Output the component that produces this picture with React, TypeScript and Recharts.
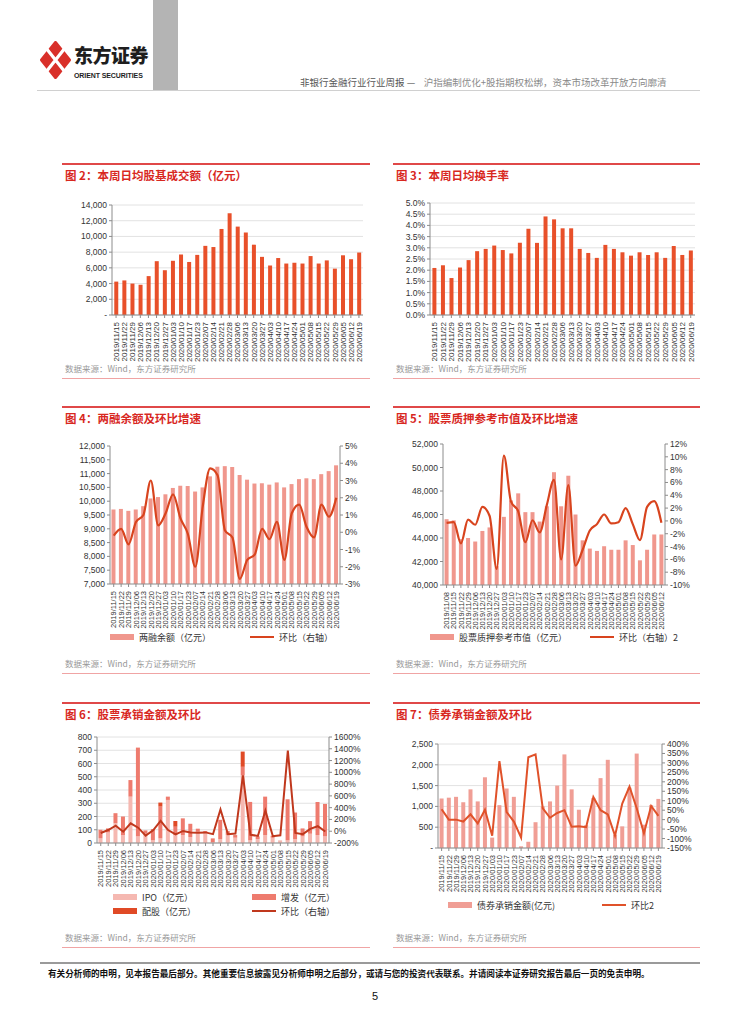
import React from 'react';
import {
  BarChart,
  Bar,
  ComposedChart,
  Line,
  XAxis,
  YAxis,
  CartesianGrid,
} from 'recharts';

// 周度日期（图2/3/4/6/7）
const weeks = [
  '2019/11/15', '2019/11/22', '2019/11/29', '2019/12/06', '2019/12/13', '2019/12/20', '2019/12/27',
  '2020/01/03', '2020/01/10', '2020/01/17', '2020/01/23', '2020/02/07', '2020/02/14', '2020/02/21',
  '2020/02/28', '2020/03/06', '2020/03/13', '2020/03/20', '2020/03/27', '2020/04/03', '2020/04/10',
  '2020/04/17', '2020/04/24', '2020/05/01', '2020/05/08', '2020/05/15', '2020/05/22', '2020/05/29',
  '2020/06/05', '2020/06/12', '2020/06/19',
];
// 图5 日期
const pledgeWeeks = ['2019/11/08', ...weeks.slice(0, 30)];

// 图2 日均股基成交额（亿元）
const turnover = [4250, 4400, 4000, 3850, 4950, 6850, 5700, 6900, 7700, 6750, 7650, 8800, 8650, 10950, 12950, 11250, 10500, 8950, 7400, 6300, 7250, 6550, 6650, 6550, 7500, 6550, 6950, 5900, 7600, 7100, 7950];
// 图3 日均换手率（%）
const turnoverRate = [2.1, 2.22, 1.65, 2.12, 2.45, 2.85, 2.95, 3.1, 2.9, 2.75, 3.22, 3.85, 3.22, 4.4, 4.27, 3.87, 3.87, 2.95, 2.77, 2.55, 3.13, 2.95, 2.8, 2.65, 2.8, 2.68, 2.8, 2.55, 3.08, 2.68, 2.88];
// 图4 两融余额（亿元）及环比（%）
const marginBal = [9700, 9720, 9650, 9700, 9820, 10100, 10150, 10250, 10480, 10560, 10550, 10350, 10500, 10900, 11250, 11270, 11240, 10950, 10780, 10640, 10650, 10600, 10680, 10500, 10620, 10800, 10830, 10800, 10980, 11090, 11300];
const marginChg = [-0.2, 0.2, -0.7, 0.6, 1.0, 3.0, 0.4, 1.1, 2.2, 0.8, -0.1, -2.0, 1.5, 3.7, 3.3, 0.1, -0.3, -2.7, -1.6, -1.3, 0.2, -0.4, 0.6, -1.6, 1.1, 1.6, 0.3, -0.3, 1.6, 0.9, 2.0];
// 图5 股票质押参考市值（亿元）及环比（%）
const pledgeVal = [45600, 45500, 43900, 44000, 43700, 44600, 44900, 41600, 45800, 47200, 47800, 46200, 46200, 45400, 46700, 49600, 46700, 49300, 46000, 43800, 43100, 42900, 43300, 43000, 43000, 43800, 43400, 42100, 43000, 44300, 44300];
const pledgeChg = [-0.3, -0.2, -3.5, 0.2, -0.6, 2.2, 0.8, -7.5, 10.2, 3.0, 1.5, -3.3, 0.1, -1.8, 2.5, 6.4, -6.0, 5.6, -7.0, -4.5, -1.5, -0.5, 1.0, -0.4, -0.2, 2.0, -0.5, -3.0, 2.2, 3.1, -0.3];
// 图6 股票承销（亿元）及环比（%）
const ipo = [35, 80, 150, 60, 350, 50, 70, 20, 35, 325, 60, 60, 45, 85, 80, 5, 30, 60, 40, 510, 20, 30, 60, 40, 20, 20, 30, 50, 70, 60, 50];
const seo = [65, 30, 75, 140, 125, 670, 25, 85, 240, 25, 63, 126, 100, 23, 10, 30, 145, 30, 20, 65, 290, 20, 290, 15, 0, 310, 200, 60, 95, 250, 245];
const rights = [0, 0, 0, 0, 0, 0, 0, 0, 30, 0, 43, 0, 0, 0, 0, 0, 0, 0, 0, 115, 0, 0, 0, 0, 0, 0, 0, 0, 0, 0, 0];
const equityChg = [-30, 20, 95, -8, 135, 60, -75, 15, 175, 20, -53, 5, -20, -25, -20, -50, 370, -50, -40, 950, -60, -80, 350, -85, -70, 1370, -30, -50, 40, 85, -5];
// 图7 债券承销金额（亿元）及环比（%）
const bondAmt = [1190, 1210, 1230, 1100, 1410, 1120, 1700, 250, 1030, 1430, 1230, 40, 150, 620, 1000, 1120, 1500, 2250, 1410, 920, 550, 1200, 1680, 2120, 320, 520, 1450, 2270, 560, 1030, 1180];
const bondChg = [55, 0, 0, -10, 28, -20, 52, -85, 310, 40, -10, -95, 330, 345, 60, 10, 35, 50, -38, -35, -40, 120, 50, 28, -85, 85, 175, 60, -72, 72, 20];

const FNUM = '"Liberation Sans", Arial, sans-serif';
const FCN = '"Noto Sans CJK SC", "Noto Sans", sans-serif';
const AX = '#8c8c8c';
const GRID = '#e2e2e2';
const TXT = '#333';
const TITLE_RED = '#d8281f';

const fmtNum = (v: number) => (v === 0 ? '-' : v.toLocaleString('en-US'));
const yTick = { fontSize: 8.5, fill: TXT, fontFamily: FNUM };

const RotTick = (props: any) => {
  const { x, y, payload, fs = 8 } = props;
  return (
    <text
      transform={`translate(${x + fs * 0.36},${y + 2}) rotate(-90)`}
      textAnchor="end"
      fontSize={fs}
      fill={TXT}
      fontFamily={FNUM}
    >
      {payload.value}
    </text>
  );
};

const abs = (left: number, top: number, extra: React.CSSProperties = {}): React.CSSProperties => ({
  position: 'absolute',
  left,
  top,
  ...extra,
});

function Frame({ x, w, top, title, source, bottom }: { x: number; w: number; top: number; title: string; source: number; bottom: number }) {
  return (
    <>
      <div style={abs(x, top, { width: w, height: 1.5, background: '#e04848' })} />
      <div style={abs(x + 3, top + 5, { fontSize: 11.5, fontWeight: 700, color: TITLE_RED, whiteSpace: 'nowrap', lineHeight: '14px' })}>
        {title}
      </div>
      <div style={abs(x + 3, source - 6, { fontSize: 8.5, color: '#999', whiteSpace: 'nowrap', lineHeight: '12px' })}>
        数据来源：Wind，东方证券研究所
      </div>
      <div style={abs(x, bottom, { width: w, height: 1, background: '#f0a4a4' })} />
    </>
  );
}

function LegendItem({ x, y, color, kind, label }: { x: number; y: number; color: string; kind: 'rect' | 'line'; label: string }) {
  return (
    <div style={abs(x, y - 7, { display: 'flex', alignItems: 'center', height: 14, whiteSpace: 'nowrap', background: '#fff', paddingRight: 2 })}>
      <div style={{ width: 24, height: kind === 'rect' ? 6 : 2.5, background: color, marginRight: 5 }} />
      <span style={{ fontSize: 9, color: TXT }}>{label}</span>
    </div>
  );
}

const c2 = weeks.map((d, i) => ({ d, v: turnover[i] }));
const c3 = weeks.map((d, i) => ({ d, v: turnoverRate[i] }));
const c4 = weeks.map((d, i) => ({ d, bal: marginBal[i], chg: marginChg[i] }));
const c5 = pledgeWeeks.map((d, i) => ({ d, val: pledgeVal[i], chg: pledgeChg[i] }));
const c6 = weeks.map((d, i) => ({ d, ipo: ipo[i], seo: seo[i], rights: rights[i], chg: equityChg[i] }));
const c7 = weeks.map((d, i) => ({ d, amt: bondAmt[i], chg: bondChg[i] }));

export default function App() {
  return (
    <div style={{ position: 'absolute', left: 0, top: 0, width: 754, height: 1024, background: '#fff', fontFamily: FCN, overflow: 'hidden' }}>
      {/* header */}
      <div style={abs(153, 0, { width: 25, height: 90, background: '#b4b4b4' })} />
      <svg style={abs(40, 41)} width={31} height={38} viewBox="0 0 31 38">
        <path d="M15.5 1.5 L29.5 19 L15.5 36.5 L1.5 19 Z" fill="#d9302a" stroke="#d9302a" strokeWidth={3} strokeLinejoin="round" />
        <path d="M6 7 L25 31 M25 7 L6 31" stroke="#fff" strokeWidth={3.2} />
      </svg>
      <div style={abs(74, 43, { fontSize: 19, fontWeight: 900, color: '#1e1e1e', lineHeight: '24px', letterSpacing: -0.5 })}>东方证券</div>
      <div style={abs(74, 71, { fontSize: 7, fontWeight: 700, color: '#1e1e1e', fontFamily: FNUM, lineHeight: '10px', letterSpacing: -0.1 })}>ORIENT SECURITIES</div>
      <div style={abs(300, 76, { fontSize: 9.5, color: '#555', whiteSpace: 'nowrap', lineHeight: '12px' })}>
        非银行金融行业行业周报 —&nbsp;&nbsp;&nbsp;&nbsp;<span style={{ color: '#8a8a8a' }}>沪指编制优化+股指期权松绑，资本市场改革开放方向廓清</span>
      </div>
      <div style={abs(37, 90, { width: 663, height: 1, background: '#d0d0d0' })} />

      {/* frames */}
      <Frame x={62} w={308} top={163} title="图 2：本周日均股基成交额（亿元）" source={368} bottom={378} />
      <Frame x={393} w={307} top={163} title="图 3：本周日均换手率" source={368} bottom={378} />
      <Frame x={62} w={308} top={406} title="图 4：两融余额及环比增速" source={663} bottom={673} />
      <Frame x={393} w={307} top={406} title="图 5：股票质押参考市值及环比增速" source={663} bottom={673} />
      <Frame x={62} w={308} top={702} title="图 6：股票承销金额及环比" source={937} bottom={947} />
      <Frame x={393} w={307} top={702} title="图 7：债券承销金额及环比" source={937} bottom={947} />

      {/* 图2 */}
      <div style={abs(62, 195)}>
        <BarChart width={308} height={170} data={c2} margin={{ top: 10, right: 7, bottom: 0, left: 0 }} barCategoryGap="28%">
          <CartesianGrid vertical={false} stroke={GRID} />
          <XAxis dataKey="d" interval={0} height={50} tick={(p: any) => <RotTick {...p} />} stroke={AX} tickSize={3} />
          <YAxis width={50} interval={0} domain={[0, 14000]} ticks={[0, 2000, 4000, 6000, 8000, 10000, 12000, 14000]} tickFormatter={fmtNum} tick={yTick} stroke={AX} tickSize={3} />
          <Bar dataKey="v" fill="#e8502a" isAnimationActive={false} />
        </BarChart>
      </div>

      {/* 图3 */}
      <div style={abs(393, 193)}>
        <BarChart width={307} height={172} data={c3} margin={{ top: 10, right: 5, bottom: 0, left: 0 }} barCategoryGap="28%">
          <CartesianGrid vertical={false} stroke={GRID} />
          <XAxis dataKey="d" interval={0} height={50} tick={(p: any) => <RotTick {...p} />} stroke={AX} tickSize={3} />
          <YAxis width={37} interval={0} domain={[0, 5]} ticks={[0, 0.5, 1, 1.5, 2, 2.5, 3, 3.5, 4, 4.5, 5]} tickFormatter={(v: number) => `${v.toFixed(1)}%`} tick={yTick} stroke={AX} tickSize={3} />
          <Bar dataKey="v" fill="#e8502a" isAnimationActive={false} />
        </BarChart>
      </div>

      {/* 图4 */}
      <div style={abs(62, 436)}>
        <ComposedChart width={308} height={196} data={c4} margin={{ top: 10, right: 0, bottom: 0, left: 0 }} barCategoryGap="20%">
          <XAxis dataKey="d" interval={0} height={48} tick={(p: any) => <RotTick {...p} fs={7.5} />} stroke={AX} tickSize={3} />
          <YAxis yAxisId="l" width={48} interval={0} domain={[7000, 12000]} ticks={[7000, 7500, 8000, 8500, 9000, 9500, 10000, 10500, 11000, 11500, 12000]} tickFormatter={fmtNum} tick={yTick} stroke={AX} tickSize={3} />
          <YAxis yAxisId="r" orientation="right" width={30} interval={0} domain={[-3, 5]} ticks={[-3, -2, -1, 0, 1, 2, 3, 4, 5]} tickFormatter={(v: number) => `${v}%`} tick={yTick} stroke={AX} tickSize={3} />
          <Bar yAxisId="l" dataKey="bal" fill="#f0978d" isAnimationActive={false} />
          <Line yAxisId="r" dataKey="chg" type="monotone" stroke="#d8441e" strokeWidth={2.2} dot={false} isAnimationActive={false} />
        </ComposedChart>
      </div>
      <LegendItem x={110} y={637} color="#f0978d" kind="rect" label="两融余额（亿元）" />
      <LegendItem x={250} y={637} color="#d8441e" kind="line" label="环比（右轴）" />

      {/* 图5 */}
      <div style={abs(393, 434)}>
        <ComposedChart width={307} height={198} data={c5} margin={{ top: 10, right: 0, bottom: 0, left: 0 }} barCategoryGap="22%">
          <XAxis dataKey="d" interval={0} height={47} tick={(p: any) => <RotTick {...p} fs={7.5} />} stroke={AX} tickSize={3} />
          <YAxis yAxisId="l" width={50} interval={0} domain={[40000, 52000]} ticks={[40000, 42000, 44000, 46000, 48000, 50000, 52000]} tickFormatter={fmtNum} tick={yTick} stroke={AX} tickSize={3} />
          <YAxis yAxisId="r" orientation="right" width={35} interval={0} domain={[-10, 12]} ticks={[-10, -8, -6, -4, -2, 0, 2, 4, 6, 8, 10, 12]} tickFormatter={(v: number) => `${v}%`} tick={yTick} stroke={AX} tickSize={3} />
          <Bar yAxisId="l" dataKey="val" fill="#f0978d" isAnimationActive={false} />
          <Line yAxisId="r" dataKey="chg" type="monotone" stroke="#d8441e" strokeWidth={2.2} dot={false} isAnimationActive={false} />
        </ComposedChart>
      </div>
      <LegendItem x={430} y={637} color="#f0978d" kind="rect" label="股票质押参考市值（亿元）" />
      <LegendItem x={590} y={637} color="#d8441e" kind="line" label="环比（右轴）2" />

      {/* 图6 */}
      <div style={abs(62, 727)}>
        <ComposedChart width={308} height={166} data={c6} margin={{ top: 10, right: 0, bottom: 0, left: 0 }} barCategoryGap="20%">
          <CartesianGrid vertical={false} stroke={GRID} yAxisId="l" />
          <XAxis dataKey="d" interval={0} height={50} tick={(p: any) => <RotTick {...p} fs={7.5} />} stroke={AX} tickSize={3} />
          <YAxis yAxisId="l" width={35} interval={0} domain={[0, 800]} ticks={[0, 100, 200, 300, 400, 500, 600, 700, 800]} tick={yTick} stroke={AX} tickSize={3} />
          <YAxis yAxisId="r" orientation="right" width={41} interval={0} domain={[-200, 1600]} ticks={[-200, 0, 200, 400, 600, 800, 1000, 1200, 1400, 1600]} tickFormatter={(v: number) => `${v}%`} tick={yTick} stroke={AX} tickSize={3} />
          <Bar yAxisId="l" dataKey="ipo" stackId="s" fill="#f5b8b1" isAnimationActive={false} />
          <Bar yAxisId="l" dataKey="seo" stackId="s" fill="#ee7b6e" isAnimationActive={false} />
          <Bar yAxisId="l" dataKey="rights" stackId="s" fill="#e04a26" isAnimationActive={false} />
          <Line yAxisId="r" dataKey="chg" type="linear" stroke="#c0381d" strokeWidth={2} dot={false} isAnimationActive={false} />
        </ComposedChart>
      </div>
      <LegendItem x={113} y={897} color="#f5b8b1" kind="rect" label="IPO（亿元）" />
      <LegendItem x={252} y={897} color="#ee7b6e" kind="rect" label="增发（亿元）" />
      <LegendItem x={113} y={911} color="#e04a26" kind="rect" label="配股（亿元）" />
      <LegendItem x={252} y={911} color="#c0381d" kind="line" label="环比（右轴）" />

      {/* 图7 */}
      <div style={abs(393, 734)}>
        <ComposedChart width={307} height={164} data={c7} margin={{ top: 10, right: 0, bottom: 0, left: 0 }} barCategoryGap="22%">
          <CartesianGrid vertical={false} stroke={GRID} yAxisId="l" />
          <XAxis dataKey="d" interval={0} height={50} tick={(p: any) => <RotTick {...p} fs={7.5} />} stroke={AX} tickSize={3} />
          <YAxis yAxisId="l" width={45} interval={0} domain={[0, 2500]} ticks={[0, 500, 1000, 1500, 2000, 2500]} tickFormatter={fmtNum} tick={yTick} stroke={AX} tickSize={3} />
          <YAxis yAxisId="r" orientation="right" width={38} interval={0} domain={[-150, 400]} ticks={[-150, -100, -50, 0, 50, 100, 150, 200, 250, 300, 350, 400]} tickFormatter={(v: number) => `${v}%`} tick={yTick} stroke={AX} tickSize={3} />
          <Bar yAxisId="l" dataKey="amt" fill="#f09e95" isAnimationActive={false} />
          <Line yAxisId="r" dataKey="chg" type="linear" stroke="#e0522a" strokeWidth={2} dot={false} isAnimationActive={false} />
        </ComposedChart>
      </div>
      <LegendItem x={448} y={905} color="#f09e95" kind="rect" label="债券承销金额(亿元)" />
      <LegendItem x={602} y={905} color="#e0522a" kind="line" label="环比2" />

      {/* footer */}
      <div style={abs(40, 962, { width: 660, height: 1.5, background: '#9a9a9a' })} />
      <div style={abs(48, 967, { fontSize: 8.6, fontWeight: 700, color: '#111', whiteSpace: 'nowrap', lineHeight: '12px' })}>
        有关分析师的申明，见本报告最后部分。其他重要信息披露见分析师申明之后部分，或请与您的投资代表联系。并请阅读本证券研究报告最后一页的免责申明。
      </div>
      <div style={abs(372, 989, { fontSize: 11, color: '#111', fontFamily: FNUM, lineHeight: '14px' })}>5</div>
    </div>
  );
}
